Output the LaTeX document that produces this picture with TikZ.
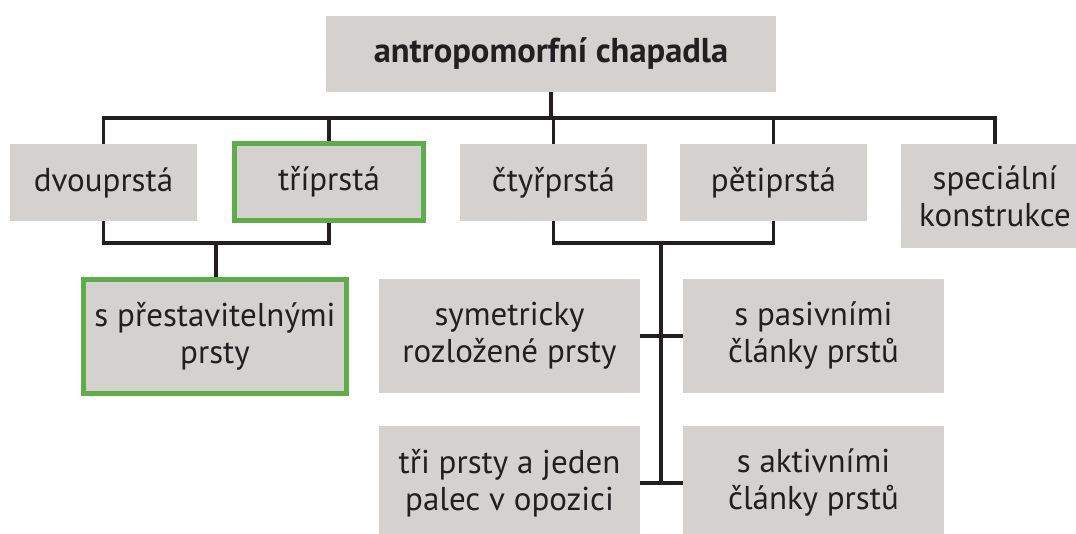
\documentclass[tikz,border=0pt]{standalone}
\usepackage{fontspec}
\setmainfont{PT Sans}
\definecolor{boxgray}{HTML}{D5D1CF}
\definecolor{boxgreen}{HTML}{5DAE48}
\definecolor{ink}{HTML}{231F20}
\begin{document}
\begin{tikzpicture}[x=1pt,y=-1pt,
  box/.style={fill=boxgray,draw=none,inner sep=0pt,align=center,text=ink,
    font=\fontsize{33}{37}\selectfont},
  greenbox/.style={box,draw=boxgreen,line width=5pt},
  conn/.style={draw=ink,line width=3.3pt}]
\clip (0,0) rectangle (1076,534);
\fill[white] (0,0) rectangle (1076,534);
% top
\node[box,minimum width=450pt,minimum height=76pt,font=\fontsize{34.5}{40}\selectfont\bfseries] (top) at (551,54) {antropomorfní chapadla};
% second row
\node[box,minimum width=187pt,minimum height=77pt] (dvou) at (103.5,182.5) {dvouprstá};
\node[greenbox,minimum width=189pt,minimum height=77pt] (tri) at (329,182) {tříprstá};
\node[box,minimum width=187pt,minimum height=77pt] (ctyr) at (553.5,182.5) {čtyřprstá};
\node[box,minimum width=187pt,minimum height=77pt] (pet) at (773.5,182.5) {pětiprstá};
\node[box,minimum width=188pt,minimum height=104pt] (spec) at (995,196) {speciální\\konstrukce};
% third row
\node[greenbox,minimum width=263pt,minimum height=114pt] (spres) at (215,336.5) {s přestavitelnými\\prsty};
\node[box,minimum width=261pt,minimum height=114pt] (sym) at (509.5,336) {symetricky\\rozložené prsty};
\node[box,minimum width=261pt,minimum height=114pt] (pas) at (813.5,336) {s pasivními\\články prstů};
\node[box,minimum width=261pt,minimum height=114pt] (tpj) at (509.5,483) {tři prsty a jeden\\palec v opozici};
\node[box,minimum width=261pt,minimum height=114pt] (akt) at (813.5,483) {s aktivními\\články prstů};
% connectors
\coordinate (h) at (0,118);
\coordinate (l) at (0,243);
\draw[conn] (top.south) -- (top.south |- h);
\draw[conn] (dvou.north) -- (dvou.north |- h) -- (spec.north |- h) -- (spec.north);
\draw[conn] (tri.north) -- (tri.north |- h);
\draw[conn] (ctyr.north) -- (ctyr.north |- h);
\draw[conn] (pet.north) -- (pet.north |- h);
\draw[conn] (dvou.south) -- (dvou.south |- l) -- (tri.south |- l) -- (tri.south);
\coordinate (lm) at (216,243);
\draw[conn] (lm) -- (lm |- spres.north);
\draw[conn] (ctyr.south) -- (ctyr.south |- l) -- (pet.south |- l) -- (pet.south);
\coordinate (rm) at (661,243);
\draw[conn] (rm) -- (rm |- akt.west);
\draw[conn] (sym.east) -- (pas.west);
\draw[conn] (tpj.east) -- (akt.west);
\end{tikzpicture}
\end{document}
